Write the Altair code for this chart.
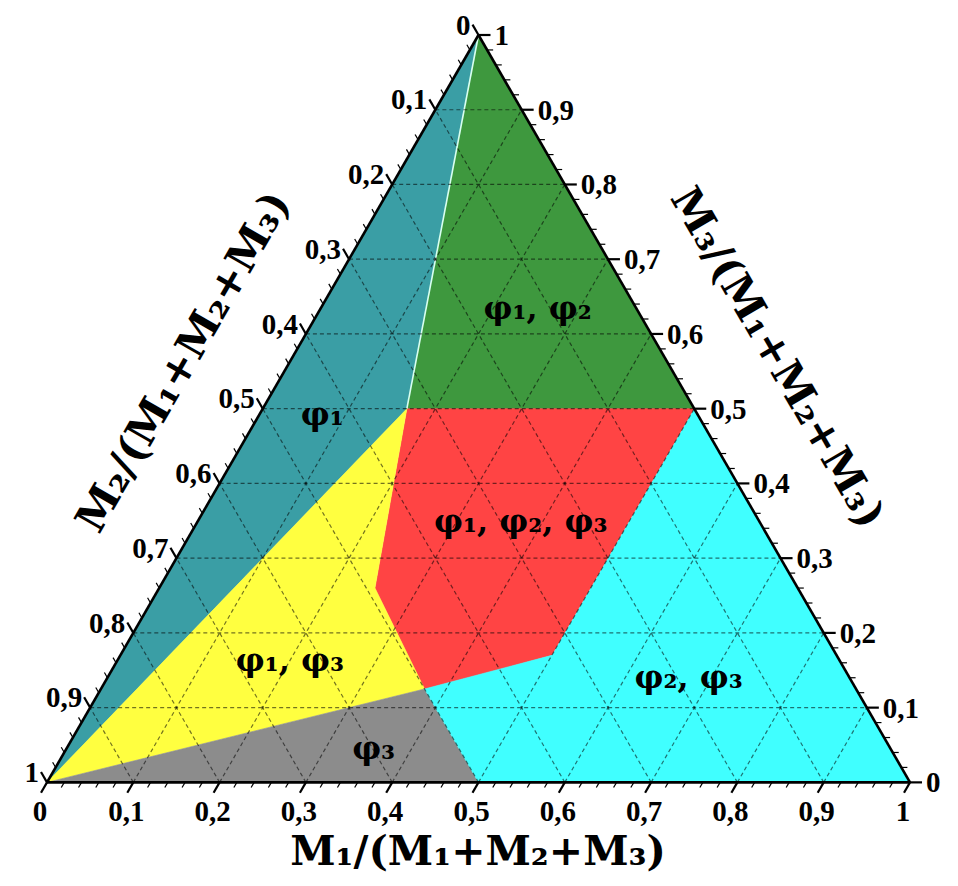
import altair as alt
import pandas as pd
import numpy as np

SQ3 = float(np.sqrt(3) / 2)
S = 863.0          # side of triangle in px
H = S * SQ3        # height in px

# ---------------- data ----------------
# phase regions, vertices as ternary compositions (M1, M3); M2 = 1 - M1 - M3
region_names = ["φ1", "φ1φ2", "φ1φ2φ3", "φ1φ3", "φ3", "φ2φ3"]
region_colors = ["#3a9ea5", "#3e983e", "#ff4444", "#ffff40", "#8c8c8c", "#40ffff"]
region_m1 = [
    [0.0, 0.167, 0.0],
    [0.0, 0.5, 0.167],
    [0.167, 0.5, 0.5, 0.375, 0.25],
    [0.0, 0.167, 0.25, 0.375],
    [0.0, 0.375, 0.5],
    [0.5, 1.0, 0.5, 0.375, 0.5],
]
region_m3 = [
    [1.0, 0.5, 0.0],
    [1.0, 0.5, 0.5],
    [0.5, 0.5, 0.17, 0.125, 0.26],
    [0.0, 0.5, 0.26, 0.125],
    [0.0, 0.125, 0.0],
    [0.5, 0.0, 0.0, 0.125, 0.17],
]

# boundary between φ1 and φ1,φ2 (light line)
boundary_m1 = [0.0, 0.167]
boundary_m3 = [1.0, 0.5]

# region labels
label_texts = ["φ₁", "φ₁, φ₂", "φ₁, φ₂, φ₃", "φ₁, φ₃", "φ₃", "φ₂, φ₃"]
label_m1 = [0.073, 0.252, 0.375, 0.200, 0.356, 0.674]
label_m3 = [0.492, 0.633, 0.348, 0.163, 0.045, 0.139]

# axis ticks
tick_values = [0.0, 0.1, 0.2, 0.3, 0.4, 0.5, 0.6, 0.7, 0.8, 0.9, 1.0]
tick_labels = ["0", "0,1", "0,2", "0,3", "0,4", "0,5", "0,6", "0,7", "0,8", "0,9", "1"]
grid_values = tick_values[1:-1]
minor_values = [round(i * 0.02, 2) for i in range(1, 50) if i % 5 != 0]

title_bottom = "M₁/(M₁+M₂+M₃)"
title_left = "M₂/(M₁+M₂+M₃)"
title_right = "M₃/(M₁+M₂+M₃)"


def cart(m1, m3):
    return m1 + m3 / 2.0, m3 * SQ3


# ---------------- tables ----------------
rows = []
for name, m1s, m3s in zip(region_names, region_m1, region_m3):
    for i, (a, c) in enumerate(zip(m1s, m3s)):
        x, y = cart(a, c)
        rows.append(dict(region=name, order=i, x=x, y=y))
poly = pd.DataFrame(rows)

brows = []
for i, (a, c) in enumerate(zip(boundary_m1, boundary_m3)):
    x, y = cart(a, c)
    brows.append(dict(order=i, x=x, y=y))
bnd = pd.DataFrame(brows)

grows = []
for t in grid_values:
    x1, y1 = cart(0.0, t); x2, y2 = cart(1 - t, t)
    grows.append(dict(x=x1, y=y1, x2=x2, y2=y2))
    x1, y1 = cart(t, 0.0); x2, y2 = cart(t, 1 - t)
    grows.append(dict(x=x1, y=y1, x2=x2, y2=y2))
    x1, y1 = cart(1 - t, 0.0); x2, y2 = cart(0.0, 1 - t)
    grows.append(dict(x=x1, y=y1, x2=x2, y2=y2))
grid = pd.DataFrame(grows)

edges = pd.DataFrame([
    dict(x=cart(0, 0)[0], y=cart(0, 0)[1], x2=cart(1, 0)[0], y2=cart(1, 0)[1]),
    dict(x=cart(1, 0)[0], y=cart(1, 0)[1], x2=cart(0, 1)[0], y2=cart(0, 1)[1]),
    dict(x=cart(0, 1)[0], y=cart(0, 1)[1], x2=cart(0, 0)[0], y2=cart(0, 0)[1]),
])

MAJ = 12.0 / S
MIN = 6.0 / S
dirs = {
    "bottom": (-0.5, -SQ3),
    "left": (-0.5, SQ3),
    "right": (1.0, 0.0),
}


def axis_point(side, t):
    if side == "bottom":      # M1 = t, M3 = 0
        return cart(t, 0.0)
    if side == "left":        # M2 = t, M1 = 0
        return cart(0.0, 1 - t)
    return cart(1 - t, t)     # right: M3 = t, M2 = 0


trows, lrows = [], []
for side in ["bottom", "left", "right"]:
    dx, dy = dirs[side]
    for t, lab in zip(tick_values, tick_labels):
        x, y = axis_point(side, t)
        trows.append(dict(x=x, y=y, x2=x + dx * MAJ, y2=y + dy * MAJ, kind="major"))
        lrows.append(dict(side=side, label=lab, x=x + dx * MAJ, y=y + dy * MAJ))
    for t in minor_values:
        x, y = axis_point(side, t)
        trows.append(dict(x=x, y=y, x2=x + dx * MIN, y2=y + dy * MIN, kind="minor"))
ticks = pd.DataFrame(trows)
tlabels = pd.DataFrame(lrows)

labs = pd.DataFrame([
    dict(text=t, x=cart(a, c)[0], y=cart(a, c)[1])
    for t, a, c in zip(label_texts, label_m1, label_m3)
])

# ---------------- chart ----------------
xs = alt.Scale(domain=[0, 1], nice=False, zero=False)
ys = alt.Scale(domain=[0, SQ3], nice=False, zero=False)
FONT = "Liberation Serif"
BIG_FONT = "DejaVu Serif"


def X(f="x"):
    return alt.X(f + ":Q", scale=xs, axis=None)


def Y(f="y"):
    return alt.Y(f + ":Q", scale=ys, axis=None)


polys = alt.Chart(poly).mark_line(filled=True, strokeWidth=0.6).encode(
    x=X(), y=Y(), order="order:Q", detail="region:N",
    fill=alt.Fill("region:N", scale=alt.Scale(domain=region_names, range=region_colors), legend=None),
    stroke=alt.Stroke("region:N", scale=alt.Scale(domain=region_names, range=region_colors), legend=None),
)

grid_layer = alt.Chart(grid).mark_rule(
    color="black", opacity=0.55, strokeWidth=1.2, strokeDash=[4, 3]
).encode(x=X(), y=Y(), x2="x2:Q", y2="y2:Q")

bnd_layer = alt.Chart(bnd).mark_line(color="#d8fff0", strokeWidth=1.6).encode(
    x=X(), y=Y(), order="order:Q"
)

edge_layer = alt.Chart(edges).mark_rule(color="black", strokeWidth=2.6).encode(
    x=X(), y=Y(), x2="x2:Q", y2="y2:Q"
)

tick_layer = alt.Chart(ticks).mark_rule(color="black").encode(
    x=X(), y=Y(), x2="x2:Q", y2="y2:Q",
    strokeWidth=alt.StrokeWidth("kind:N", scale=alt.Scale(domain=["major", "minor"], range=[2.2, 1.2]), legend=None),
)

lab_style = dict(font=FONT, fontWeight="bold", fontSize=29, color="black")
bottom_labels = alt.Chart(tlabels[tlabels.side == "bottom"]).mark_text(
    align="center", baseline="middle", dy=19, dx=-1, **lab_style
).encode(x=X(), y=Y(), text="label:N")
left_labels = alt.Chart(tlabels[tlabels.side == "left"]).mark_text(
    align="right", baseline="middle", dx=-2, dy=1, **lab_style
).encode(x=X(), y=Y(), text="label:N")
right_labels = alt.Chart(tlabels[tlabels.side == "right"]).mark_text(
    align="left", baseline="middle", dx=4, dy=1, **lab_style
).encode(x=X(), y=Y(), text="label:N")

region_labels = alt.Chart(labs).mark_text(
    font=BIG_FONT, fontWeight="bold", fontSize=32, color="black", align="center", baseline="middle"
).encode(x=X(), y=Y(), text="text:N")

title_style = dict(font=BIG_FONT, fontWeight="bold", fontSize=42, color="black", align="center", baseline="middle")
t_bottom = alt.Chart(pd.DataFrame({"t": [title_bottom]})).mark_text(fontSize=41, **{k: v for k, v in title_style.items() if k != "fontSize"}).encode(
    x=alt.value(431), y=alt.value(818.5), text="t:N")
t_left = alt.Chart(pd.DataFrame({"t": [title_left]})).mark_text(angle=300, **title_style).encode(
    x=alt.value(137), y=alt.value(327), text="t:N")
t_right = alt.Chart(pd.DataFrame({"t": [title_right]})).mark_text(angle=60, **title_style).encode(
    x=alt.value(730), y=alt.value(323), text="t:N")

chart = alt.layer(
    polys, bnd_layer, grid_layer, edge_layer, tick_layer,
    bottom_labels, left_labels, right_labels, region_labels,
    t_bottom, t_left, t_right,
).properties(
    width=S, height=H,
    padding={"left": 39, "top": 27, "right": 40, "bottom": 94},
    autosize=alt.AutoSizeParams(type="none"),
).configure_view(stroke=None)

chart.save("out.html", embed_options={"renderer": "svg", "actions": False})
